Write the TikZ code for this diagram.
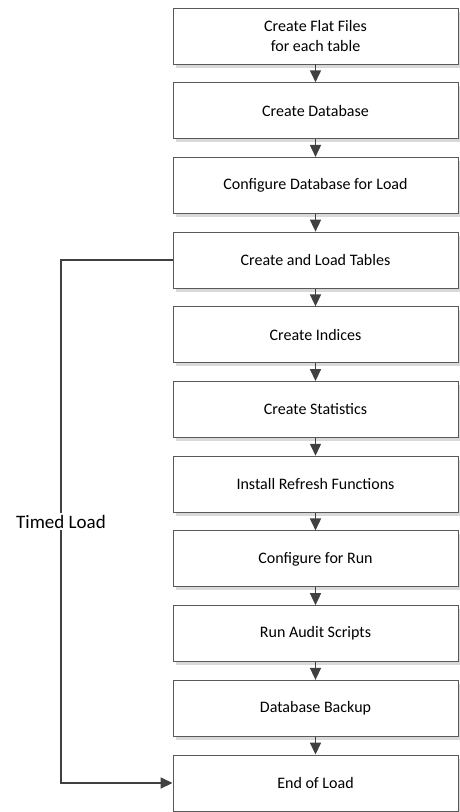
\documentclass[tikz,border=0pt]{standalone}
\usepackage{fontspec}
\setmainfont{Carlito}
\usetikzlibrary{arrows.meta,shadows}
\definecolor{linegray}{HTML}{404040}
\definecolor{boxgray}{HTML}{595959}
\definecolor{shadowgray}{HTML}{D9D9D9}
\tikzset{
  stepbox/.style={draw=boxgray, line width=0.9pt, fill=white, minimum width=285pt, minimum height=56pt,
    inner sep=0pt, align=center, font=\fontsize{16}{20}\selectfont,
    drop shadow={shadow xshift=2.5pt, shadow yshift=-3.5pt, fill=shadowgray, opacity=1}},
  flow/.style={draw=linegray, line width=1.6pt, -{Triangle[length=12pt,width=11pt]}},
  looplabel/.style={fill=white, inner sep=2pt, font=\fontsize{19}{22}\selectfont}
}
\begin{document}
\begin{tikzpicture}[x=1pt,y=1pt]
\useasboundingbox (0,0) rectangle (459,-812);
\node[stepbox] (b0) at (315.5,-36) {Create Flat Files\\for each table};
\node[stepbox] (b1) at (315.5,-110.7) {Create Database};
\node[stepbox] (b2) at (315.5,-185.4) {Configure Database for Load};
\node[stepbox] (b3) at (315.5,-260.1) {Create and Load Tables};
\node[stepbox] (b4) at (315.5,-334.8) {Create Indices};
\node[stepbox] (b5) at (315.5,-409.5) {Create Statistics};
\node[stepbox] (b6) at (315.5,-484.2) {Install Refresh Functions};
\node[stepbox] (b7) at (315.5,-558.9) {Configure for Run};
\node[stepbox] (b8) at (315.5,-633.6) {Run Audit Scripts};
\node[stepbox] (b9) at (315.5,-708.3) {Database Backup};
\node[stepbox] (b10) at (315.5,-783) {End of Load};
\foreach \a/\b in {b0/b1,b1/b2,b2/b3,b3/b4,b4/b5,b5/b6,b6/b7,b7/b8,b8/b9,b9/b10}
  \draw[flow] (\a.south) -- (\b.north);
\coordinate (lt) at (61,-260.1);
\coordinate (lb) at (61,-783);
\draw[flow] (b3.west) -- (lt) -- (lb) -- (b10.west);
\node[looplabel] (tl) at (61,-521.5) {Timed Load};
\end{tikzpicture}
\end{document}
